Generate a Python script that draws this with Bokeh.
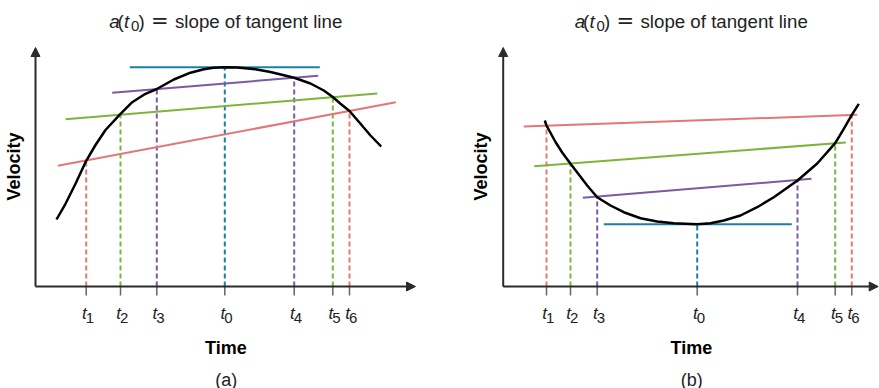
import math
from bokeh.plotting import figure
from bokeh.layouts import row
from bokeh.models import Range1d, Arrow, NormalHead, ColumnDataSource
from bokeh.core.properties import value
from bokeh.embed import file_html
from bokeh.resources import INLINE

FONT = value("Liberation Sans")

# ---------------- data: panel (a) velocity with a maximum at t0 ----------------
a_curve_t = [2.10, 3.00, 4.00, 5.07, 6.00, 7.00, 8.50, 9.67, 11.00, 12.13, 13.83, 15.50,
             16.83, 17.80, 18.93, 20.17, 22.00, 23.50, 25.87, 27.50, 28.83, 29.73, 30.50,
             31.40, 32.50, 33.50, 34.57]
a_curve_v = [6.70, 8.27, 10.27, 12.57, 14.15, 15.65, 17.27, 18.43, 19.27, 19.75, 20.70, 21.38,
             21.72, 21.87, 21.93, 21.90, 21.72, 21.45, 20.87, 20.30, 19.60, 18.95, 18.27,
             17.55, 16.27, 15.10, 14.00]
a_tick_names = ["1", "2", "3", "0", "4", "5", "6"]
a_tick_t = [5.07, 8.50, 12.13, 18.93, 25.87, 29.73, 31.40]
a_tick_v = [12.57, 17.27, 19.75, 21.93, 20.87, 18.95, 17.55]
# tangent lines: red, green, purple, blue
a_tan_t0 = [2.23, 3.00, 7.67, 9.43]
a_tan_v0 = [12.07, 16.73, 19.37, 21.93]
a_tan_t1 = [36.03, 34.17, 28.27, 28.43]
a_tan_v1 = [18.43, 19.30, 21.07, 21.93]

# ---------------- data: panel (b) velocity with a minimum at t0 ----------------
b_curve_t = [4.16, 4.33, 5.23, 5.90, 6.73, 7.56, 8.40, 9.40, 10.73, 12.06, 13.73, 15.40,
             17.06, 19.40, 20.73, 22.06, 23.73, 25.40, 27.06, 29.43, 31.40, 33.20, 34.06,
             34.86, 35.56]
b_curve_v = [16.60, 16.10, 14.45, 13.40, 12.27, 11.20, 10.10, 8.93, 8.10, 7.43, 6.83, 6.50,
             6.33, 6.23, 6.32, 6.60, 7.10, 7.93, 8.93, 10.60, 12.30, 14.33, 15.77,
             17.17, 18.27]
b_tick_names = ["1", "2", "3", "0", "4", "5", "6"]
b_tick_t = [4.33, 6.73, 9.40, 19.40, 29.43, 33.20, 34.86]
b_tick_v = [16.10, 12.27, 8.93, 6.23, 10.60, 14.33, 17.17]
b_tan_t0 = [2.06, 3.10, 7.96, 10.06]
b_tan_v0 = [16.00, 12.03, 8.87, 6.23]
b_tan_t1 = [35.40, 34.26, 30.83, 28.86]
b_tan_v1 = [17.17, 14.40, 10.77, 6.23]

# axis extents (arrow tips)
a_t_max, a_v_max = 38.0, 23.9
b_t_max, b_v_max = 37.5, 23.9

title_rest = "slope of tangent line"
x_title = "Time"
y_title = "Velocity"

# ---------------- styles ----------------
RED, GREEN, PURPLE, BLUE = "#e47775", "#7db53b", "#7a5aa3", "#1c7fa8"
TAN_COLORS = [RED, GREEN, PURPLE, BLUE]
TICK_COLORS = [RED, GREEN, PURPLE, BLUE, PURPLE, GREEN, RED]
AXIS = "#2b2b2b"
TEXT = "#222222"

W_A, W_B, H = 440, 439, 388
Y0_PX = 286.0      # pixel row of the time axis in the picture
SCALE = 10.0       # pixels per unit


def make_panel(width, ox, shift, curve_t, curve_v, tick_names, tick_t, tick_v,
               t0, v0, t1, v1, t_max, v_max, tag, left_px, vel_px):
    def T(px):
        return (px - ox) / SCALE

    def V(py):
        return (Y0_PX - py) / SCALE

    p = figure(width=width, height=H, output_backend="svg", toolbar_location=None,
               x_range=Range1d(T(left_px), T(left_px + width)),
               y_range=Range1d(V(H), V(0)),
               x_axis_type=None, y_axis_type=None, min_border=0)
    p.grid.visible = False
    p.outline_line_color = None
    p.background_fill_color = "white"
    p.border_fill_color = "white"

    # dashed drop lines
    drop = ColumnDataSource(dict(t=tick_t, v=tick_v, z=[0] * len(tick_t), c=TICK_COLORS))
    p.segment(x0="t", y0="z", x1="t", y1="v", source=drop, line_color="c",
              line_width=2, line_dash="5 3")

    # tangent lines
    tan = ColumnDataSource(dict(t0=t0, v0=v0, t1=t1, v1=v1, c=TAN_COLORS))
    p.segment(x0="t0", y0="v0", x1="t1", y1="v1", source=tan, line_color="c", line_width=2)

    # curve
    p.line(curve_t, curve_v, line_color="black", line_width=2.5, line_join="round")

    # tick marks
    p.segment(x0=tick_t, y0=[0] * len(tick_t), x1=tick_t, y1=[V(Y0_PX + 9)] * len(tick_t),
              line_color="#666666", line_width=1.5)

    # axes with arrows
    p.add_layout(Arrow(end=NormalHead(size=9, fill_color=AXIS, line_color=AXIS),
                       x_start=0, y_start=0, x_end=t_max, y_end=0,
                       line_color=AXIS, line_width=2))
    p.add_layout(Arrow(end=NormalHead(size=9, fill_color=AXIS, line_color=AXIS),
                       x_start=0, y_start=0, x_end=0, y_end=v_max,
                       line_color=AXIS, line_width=2))

    # tick labels: italic t with subscript digit
    p.text(x=[t + 0.05 for t in tick_t], y=[V(313.3)] * len(tick_t), text=["t"] * len(tick_t),
           text_font=FONT, text_font_size="17px", text_font_style="italic",
           text_align="right", text_baseline="alphabetic", text_color=TEXT)
    p.text(x=[t - 0.05 for t in tick_t], y=[V(317.5)] * len(tick_t), text=tick_names,
           text_font=FONT, text_font_size="15px",
           text_align="left", text_baseline="alphabetic", text_color=TEXT)

    # axis titles
    p.text(x=[T(225.3 + shift)], y=[V(347.5)], text=[x_title], text_font=FONT,
           text_font_size="18px", text_font_style="bold", text_align="center",
           text_baseline="alphabetic", text_color="black")
    p.text(x=[T(vel_px)], y=[V(166.0)], text=[y_title], text_font=FONT,
           text_font_size="18px", text_font_style="bold", text_align="center",
           text_baseline="middle", angle=math.pi / 2, text_color="black")
    p.text(x=[T(225.8 + shift)], y=[V(379.0)], text=[tag], text_font=FONT,
           text_font_size="18px", text_align="center", text_baseline="alphabetic",
           text_color=TEXT)

    # title: a(t0) = slope of tangent line
    base = V(20.7)
    pieces = [("a", 108.8, base, "18.7px", "italic", FONT),
              ("(", 117.0, base, "18.7px", "normal", FONT),
              ("t", 123.5, base, "18.7px", "italic", FONT),
              ("0", 130.5, V(25.2), "15px", "normal", FONT),
              (")", 138.0, base, "18.7px", "normal", FONT),
              ("=", 150.5, base, "21px", "normal", value("DejaVu Sans")),
              (title_rest, 174.5, base, "18.7px", "normal", FONT)]
    for txt, px, y, size, style, font in pieces:
        p.text(x=[T(px + shift)], y=[y], text=[txt], text_font=font, text_font_size=size,
               text_font_style=style, text_align="left", text_baseline="alphabetic",
               text_color=TEXT)
    return p


pa = make_panel(W_A, 35.0, 0.0, a_curve_t, a_curve_v, a_tick_names, a_tick_t, a_tick_v,
                a_tan_t0, a_tan_v0, a_tan_t1, a_tan_v1, a_t_max, a_v_max, "(a)", 0, 13.3)
pb = make_panel(W_B, 502.7, 465.5, b_curve_t, b_curve_v, b_tick_names, b_tick_t, b_tick_v,
                b_tan_t0, b_tan_v0, b_tan_t1, b_tan_v1, b_t_max, b_v_max, "(b)", 440, 480.8)

layout = row(pa, pb)
open("out.html", "w").write(file_html(layout, INLINE))
